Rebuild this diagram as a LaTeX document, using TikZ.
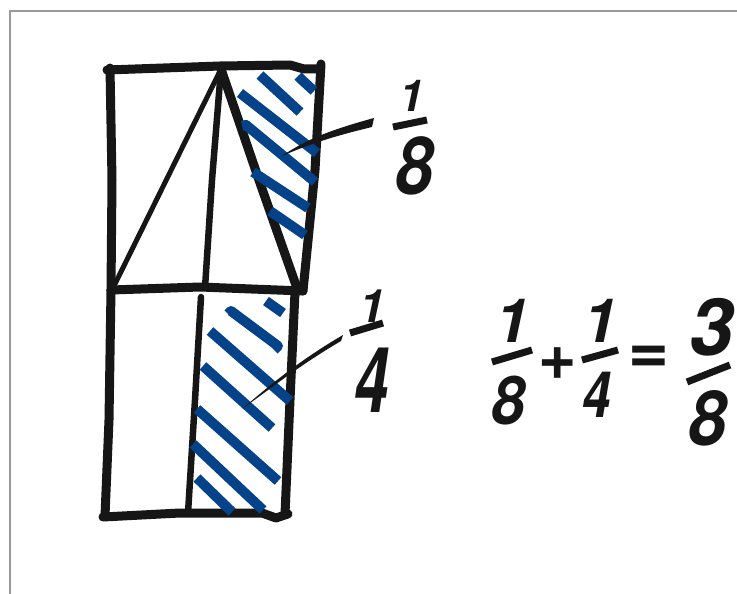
\documentclass[tikz,border=0pt]{standalone}
\usepackage{fontspec}
\setmainfont{TeX Gyre Heros}
\definecolor{hatchblue}{RGB}{4,66,138}
\definecolor{inkc}{RGB}{22,22,22}
\tikzset{
  ink/.style={draw=inkc, line width=9pt, line join=round, line cap=round},
  inkmid/.style={draw=inkc, line width=6.5pt, line join=round, line cap=round},
  inkthin/.style={draw=inkc, line width=5pt, line join=round, line cap=round},
  hatch/.style={draw=hatchblue, line width=10pt, line cap=butt, line join=round},
  bar/.style={draw=inkc, line width=7pt, line cap=butt},
  digit/.style={inner sep=0pt, outer sep=0pt, text=inkc},
  frame/.style={draw=black!40, line width=1.5pt}
}
\newcommand{\hw}[1]{\bfseries\itshape\fontsize{#1}{#1}\selectfont}
\begin{document}
\begin{tikzpicture}[x=1pt,y=-1pt]
\useasboundingbox (0,0) rectangle (737,594);
\fill[white] (0,0) rectangle (737,594);
\draw[frame] (10,594) -- (10,11) -- (737,11);

% ---------- top square ----------
\coordinate (tl) at (110,68);
\coordinate (tr) at (321,64);
\coordinate (ml) at (111,290);
\coordinate (mr) at (303,291);
\coordinate (apex) at (221,69);
\draw[ink] (107,70) -- (220,66) -- (290,65) -- (304,69) -- (318,69);
\draw[ink] (tl) -- (112,180) -- (ml);
\draw[ink] (tr) -- (315,170) -- (mr);
\draw[ink] (ml) -- (200,287) -- (mr);
% triangle
\draw[inkthin] (apex) -- (113,288);
\draw[inkmid] (apex) -- (212,180) -- (205,288);
\draw[ink] (apex) -- (260,183) -- (298,291);

% hatching top
\draw[hatch] (260,75) -- (300,112);
\draw[hatch] (298,76) -- (302,80) -- (314,91);
\draw[hatch] (240,93) -- (317,153);
\draw[hatch] (242,126) -- (246,125) -- (315,182);
\draw[hatch] (253,172) -- (308,208);
\draw[hatch] (270,211) -- (305,235);

% ---------- bottom square ----------
\coordinate (bl) at (105,516);
\coordinate (br) at (285,514);
\draw[ink] (ml) -- (109,420) -- (bl);
\draw[ink] (295,292) -- (290,400) -- (br);
\draw[ink] (103,517) -- (180,513) -- (262,513) -- (276,518) -- (288,514);
\draw[inkmid] (201,297) -- (195,400) -- (188,513);

% hatching bottom
\draw[hatch] (266,301) -- (283,313);
\draw[hatch] (228,314) -- (231,311) -- (278,346) -- (274,350);
\draw[hatch] (210,331) -- (290,401);
\draw[hatch] (203,366) -- (272,428);
\draw[hatch] (197,409) -- (278,481);
\draw[hatch] (193,444) -- (263,510);
\draw[hatch] (197,478) -- (232,512);

% ---------- label 1/8 ----------
\node[digit, font=\hw{44}] (l8n) at (412,96) {1};
\draw[bar] (393,127) -- (427,120);
\node[digit, font=\hw{80}, xscale=0.85] (l8d) at (414,166) {8};
\fill[inkc] (282,156) .. controls (305,140) and (330,130) .. (374,118)
  -- (372,127) .. controls (330,137) and (305,146) .. (282,156) -- cycle;

% ---------- label 1/4 ----------
\node[digit, font=\hw{46}] (l4n) at (372,306) {1};
\draw[bar] (350,333) -- (383,323);
\node[digit, font=\hw{91}, xscale=0.68] (l4d) at (372,380) {4};
\fill[inkc] (242,409) .. controls (270,385) and (300,360) .. (343,335)
  -- (341,341) .. controls (300,365) and (270,389) .. (242,409) -- cycle;

% ---------- equation ----------
\node[digit, font=\hw{61}] (e1n) at (512,321) {1};
\draw[bar] (492,362) -- (532,350);
\node[digit, font=\hw{67}, xscale=0.9] (e1d) at (508,401) {8};
\node[digit, font=\hw{66}] (plus) at (557,364) {+};
\node[digit, font=\hw{61}] (e2n) at (600,321) {1};
\draw[bar] (582,360) -- (618,350);
\node[digit, font=\hw{64}, xscale=0.8] (e2d) at (597,395) {4};
\node[digit, font=\hw{70}] (eq) at (648,360) {=};
\node[digit, font=\hw{79}] (e3n) at (711,327) {3};
\draw[bar] (687,382) -- (730,365);
\node[digit, font=\hw{76}, xscale=0.9] (e3d) at (708,418) {8};
\end{tikzpicture}
\end{document}
